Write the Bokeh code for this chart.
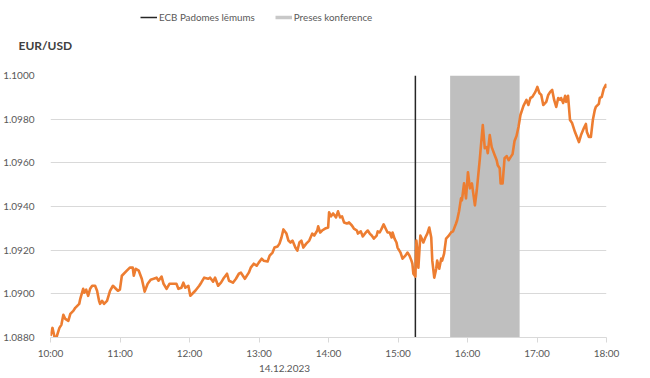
import pandas as pd
from bokeh.plotting import figure
from bokeh.layouts import column
from bokeh.models import (Legend, LegendItem, Label, FixedTicker, DatetimeAxis,
                          DatetimeTickFormatter, NumeralTickFormatter, Range1d)
from bokeh.embed import file_html
from bokeh.resources import INLINE

# ---------------- data ----------------
DAY = "2023-12-14"
START = "10:00"
END = "18:00"
# minutes after 10:00
minutes = [
    0, 1.7, 3.4, 5.1, 7.7, 9.4, 11.1, 12.8, 15.4, 17.1, 19.7, 21.4, 24.8, 25.7, 28.2, 29.1,
    30.8, 32.5, 34.2, 36.0, 38.5, 40.2, 41.9, 42.8, 44.5, 46.2, 48.8, 51.4, 53.9, 55.6, 58.2,
    59.9, 61.6, 63.3, 65.9, 68.5, 71.0, 71.9, 73.6, 76.2, 78.8, 81.3, 83.9, 86.5, 89.0, 91.6,
    93.3, 95.9, 97.6, 100.2, 102.7, 106.1, 108.7, 110.4, 113.0, 114.7, 116.4, 119.0, 120.7,
    123.3, 125.0, 128.4, 130.1, 132.7, 136.1, 137.8, 140.4, 142.1, 144.7, 147.2, 149.8, 152.4,
    154.1, 157.5, 160.1, 162.6, 164.4, 166.1, 167.8, 171.2, 172.9, 175.5, 178.0, 179.8, 182.3,
    184.0, 187.4, 189.2, 191.7, 193.4, 196.0, 197.7, 199.4, 201.1, 203.7, 205.4, 207.2, 208.9,
    211.4, 213.1, 214.9, 216.6, 218.3, 220.8, 223.4, 226.0, 227.7, 230.3, 231.1, 232.8, 234.5,
    237.1, 239.7, 240.5, 242.2, 244.0, 246.5, 248.2, 250.0, 251.7, 253.4, 255.9, 257.7, 260.2,
    261.9, 264.5, 265.4, 267.9, 269.6, 272.2, 273.9, 275.6, 277.3, 279.1, 281.6, 282.5, 284.2,
    285.9, 287.6, 289.3, 291.0, 292.8, 294.5, 295.3, 297.0, 298.7, 299.6, 302.2, 303.9, 306.4,
    308.2, 309.9, 311.6, 312.4, 313.3, 315.0, 315.9, 316.7, 317.6, 319.3, 320.1, 321.9, 323.6,
    325.3, 327.0, 328.7, 329.6, 331.3, 333.0, 333.8, 335.6, 337.3, 338.1, 339.8, 341.5, 343.3,
    345.8, 347.5, 350.1, 351.0, 352.7, 354.4, 355.2, 357.0, 358.7, 360.4, 362.1, 363.8, 366.4,
    368.1, 370.7, 371.5, 373.2, 374.9, 376.6, 377.5, 379.2, 380.9, 383.5, 385.2, 386.1, 387.8,
    388.6, 390.3, 392.0, 393.8, 395.5, 397.2, 398.9, 400.6, 402.3, 404.0, 405.7, 408.3, 410.9,
    412.6, 414.3, 416.0, 418.6, 420.3, 422.0, 423.7, 425.4, 428.0, 429.7, 431.4, 433.1, 434.8,
    436.6, 438.3, 440.0, 440.8, 442.6, 444.3, 445.1, 446.8, 448.5, 450.3, 452.8, 454.5, 456.2,
    458.0, 460.5, 462.2, 463.1, 464.8, 466.5, 468.2, 469.9, 470.8, 473.4, 474.2, 475.9, 477.6,
    479.4, 480.0,
]
eurusd = [
    1.08807, 1.08844, 1.08803, 1.08800, 1.08844, 1.08858, 1.08904, 1.08885, 1.08876, 1.08908,
    1.08922, 1.08936, 1.08954, 1.08977, 1.09023, 1.09005, 1.09019, 1.08991, 1.09023, 1.09037,
    1.09037, 1.09014, 1.08968, 1.08954, 1.08968, 1.08954, 1.08968, 1.09014, 1.09037, 1.09028,
    1.09014, 1.09019, 1.09083, 1.09092, 1.09106, 1.09120, 1.09120, 1.09083, 1.09115, 1.09106,
    1.09069, 1.09010, 1.09046, 1.09065, 1.09069, 1.09074, 1.09060, 1.09079, 1.09046, 1.09023,
    1.09046, 1.09046, 1.09046, 1.09023, 1.09028, 1.09051, 1.09028, 1.09037, 1.08991, 1.09005,
    1.09014, 1.09037, 1.09051, 1.09074, 1.09069, 1.09074, 1.09056, 1.09074, 1.09037, 1.09051,
    1.09074, 1.09092, 1.09060, 1.09051, 1.09069, 1.09092, 1.09097, 1.09083, 1.09069, 1.09097,
    1.09120, 1.09138, 1.09129, 1.09143, 1.09161, 1.09152, 1.09148, 1.09175, 1.09189, 1.09212,
    1.09217, 1.09230, 1.09258, 1.09295, 1.09276, 1.09244, 1.09235, 1.09244, 1.09212, 1.09198,
    1.09235, 1.09244, 1.09212, 1.09230, 1.09244, 1.09276, 1.09267, 1.09290, 1.09309, 1.09281,
    1.09290, 1.09299, 1.09304, 1.09373, 1.09355, 1.09368, 1.09350, 1.09378, 1.09350, 1.09355,
    1.09327, 1.09322, 1.09327, 1.09313, 1.09299, 1.09290, 1.09276, 1.09286, 1.09263, 1.09281,
    1.09290, 1.09276, 1.09267, 1.09253, 1.09267, 1.09286, 1.09281, 1.09299, 1.09318, 1.09299,
    1.09281, 1.09281, 1.09258, 1.09281, 1.09253, 1.09235, 1.09212, 1.09189, 1.09161, 1.09175,
    1.09189, 1.09175, 1.09152, 1.09138, 1.09092, 1.09079, 1.09244, 1.09198, 1.09120, 1.09267,
    1.09258, 1.09235, 1.09258, 1.09276, 1.09304, 1.09258, 1.09152, 1.09074, 1.09115, 1.09152,
    1.09115, 1.09161, 1.09152, 1.09184, 1.09253, 1.09263, 1.09281, 1.09286, 1.09322, 1.09336,
    1.09378, 1.09437, 1.09428, 1.09506, 1.09437, 1.09557, 1.09483, 1.09506, 1.09405, 1.09479,
    1.09621, 1.09672, 1.09773, 1.09667, 1.09672, 1.09644, 1.09727, 1.09672, 1.09635, 1.09612,
    1.09589, 1.09575, 1.09506, 1.09506, 1.09621, 1.09631, 1.09612, 1.09626, 1.09640, 1.09700,
    1.09723, 1.09764, 1.09819, 1.09861, 1.09888, 1.09865, 1.09897, 1.09902, 1.09925, 1.09948,
    1.09920, 1.09911, 1.09865, 1.09879, 1.09911, 1.09925, 1.09934, 1.09888, 1.09856, 1.09897,
    1.09888, 1.09897, 1.09874, 1.09907, 1.09879, 1.09907, 1.09796, 1.09782, 1.09741, 1.09718,
    1.09695, 1.09727, 1.09759, 1.09778, 1.09741, 1.09718, 1.09718, 1.09796, 1.09842, 1.09856,
    1.09870, 1.09897, 1.09902, 1.09939, 1.09957, 1.09943,
]
ecb_time = "15:15"
press_start = "15:45"
press_end = "16:45"
y_min, y_max = 1.0880, 1.1000
y_ticks = [1.0880, 1.0900, 1.0920, 1.0940, 1.0960, 1.0980, 1.1000]
x_tick_labels = ["10:00", "11:00", "12:00", "13:00", "14:00", "15:00", "16:00", "17:00", "18:00"]
date_label = "14.12.2023"
date_label_pos = "13:22"
series_title = "EUR/USD"
ecb_label = "ECB Padomes lēmums"
press_label = "Preses konference"

# ---------------- styles ----------------
FONT = "Lato"
GRAY_TXT = "#595959"
ECB_COLOR = "#262626"
PRESS_FILL = "#bfbfbf"
PRESS_SWATCH = "#c8c8c8"
LINE_COLOR = "#ED7D31"
GRID = "#d9d9d9"
W = 634
BORDER_L = 45

def ts(hm):
    return pd.Timestamp(f"{DAY} {hm}")

def ms(hm):
    return ts(hm).value / 1e6

times = ts(START) + pd.to_timedelta(minutes, unit="m")

# ---------------- header (legend + title) ----------------
head = figure(width=W, height=60, output_backend="svg", toolbar_location=None,
              x_axis_type="datetime",
              x_range=Range1d(ts(START), ts(END)), y_range=Range1d(y_max + 1, y_max + 2),
              x_axis_location=None, y_axis_location=None,
              min_border_left=0, min_border_right=0, min_border_top=0, min_border_bottom=0)
head.outline_line_color = None
head.grid.visible = False
try:
    head.frame_align = False      # header frame spans the whole header
    shift = 0
except AttributeError:
    shift = BORDER_L              # frame gets aligned with the chart frame

# swatch renderers: the same marks as in the chart, lying outside this header's y-range
ecb_sw = head.line(x=[ts(ecb_time), ts(ecb_time)], y=[y_min, y_max],
                   line_color=ECB_COLOR, line_width=1.5)
press_sw = head.line(x=[ts(press_start), ts(press_end)], y=[y_min, y_min],
                     line_color=PRESS_SWATCH, line_width=3.5)
legend = Legend(items=[LegendItem(label=ecb_label, renderers=[ecb_sw]),
                       LegendItem(label=press_label, renderers=[press_sw])],
                orientation="horizontal", location=(140 - shift, 36),
                label_text_font=FONT, label_text_font_size="9.8px", label_text_color=GRAY_TXT,
                glyph_width=17, glyph_height=14, label_height=14, label_standoff=2,
                spacing=20, padding=0, margin=0,
                background_fill_alpha=0, border_line_alpha=0)
head.add_layout(legend, "center")
head.add_layout(Label(x=18 - shift, y=15, x_units="screen", y_units="screen", text=series_title,
                      text_font=FONT, text_font_style="bold", text_font_size="12px",
                      text_color="#404040", text_align="left", text_baseline="middle"))

# ---------------- main chart ----------------
p = figure(width=W, height=318, x_axis_type="datetime",
           output_backend="svg", toolbar_location=None,
           x_range=Range1d(ts(START), ts(END)), y_range=Range1d(y_min, y_max),
           min_border_left=BORDER_L, min_border_right=28, min_border_top=15, min_border_bottom=41)
p.outline_line_color = None

p.quad(left=[ts(press_start)], right=[ts(press_end)], bottom=[y_min], top=[y_max],
       fill_color=PRESS_FILL, line_color=None)
p.segment(x0=[ts(ecb_time)], x1=[ts(ecb_time)], y0=[y_min], y1=[y_max],
          line_color=ECB_COLOR, line_width=1.5)
p.line(times, eurusd, line_color=LINE_COLOR, line_width=2.6, line_join="round")

xa = p.xaxis[0]
xa.ticker = FixedTicker(ticks=[ms(h) for h in x_tick_labels])
xa.formatter = DatetimeTickFormatter(hours="%H:%M", minutes="%H:%M", hourmin="%H:%M",
                                     days="%H:%M", minsec="%H:%M")
xa.axis_line_color = GRID
xa.major_tick_line_color = GRID
xa.major_tick_out = 5
xa.major_tick_in = 0
xa.minor_tick_line_color = None
xa.major_label_standoff = 4
xa.major_label_text_font = FONT
xa.major_label_text_font_size = "10px"
xa.major_label_text_color = GRAY_TXT

date_fmt = "%d.%m.%Y"
date_axis = DatetimeAxis(
    ticker=FixedTicker(ticks=[ms(date_label_pos)]),
    formatter=DatetimeTickFormatter(microseconds=date_fmt, milliseconds=date_fmt, seconds=date_fmt,
                                    minsec=date_fmt, minutes=date_fmt, hourmin=date_fmt,
                                    hours=date_fmt, days=date_fmt, months=date_fmt, years=date_fmt),
    axis_line_color=None, major_tick_line_color=None, minor_tick_line_color=None,
    major_tick_out=0, major_tick_in=0,
    major_label_standoff=3, major_label_text_font=FONT, major_label_text_font_size="10px",
    major_label_text_color=GRAY_TXT)
p.add_layout(date_axis, "below")

ya = p.yaxis[0]
ya.ticker = FixedTicker(ticks=y_ticks)
ya.formatter = NumeralTickFormatter(format="0.0000")
ya.axis_line_color = None
ya.major_tick_line_color = None
ya.minor_tick_line_color = None
ya.major_label_standoff = 10
ya.major_label_text_font = FONT
ya.major_label_text_font_size = "10px"
ya.major_label_text_color = GRAY_TXT

p.xgrid.grid_line_color = None
p.ygrid.grid_line_color = GRID
p.ygrid.ticker = FixedTicker(ticks=y_ticks)

layout = column(head, p, spacing=0)
open("out.html", "w").write(file_html(layout, INLINE))
